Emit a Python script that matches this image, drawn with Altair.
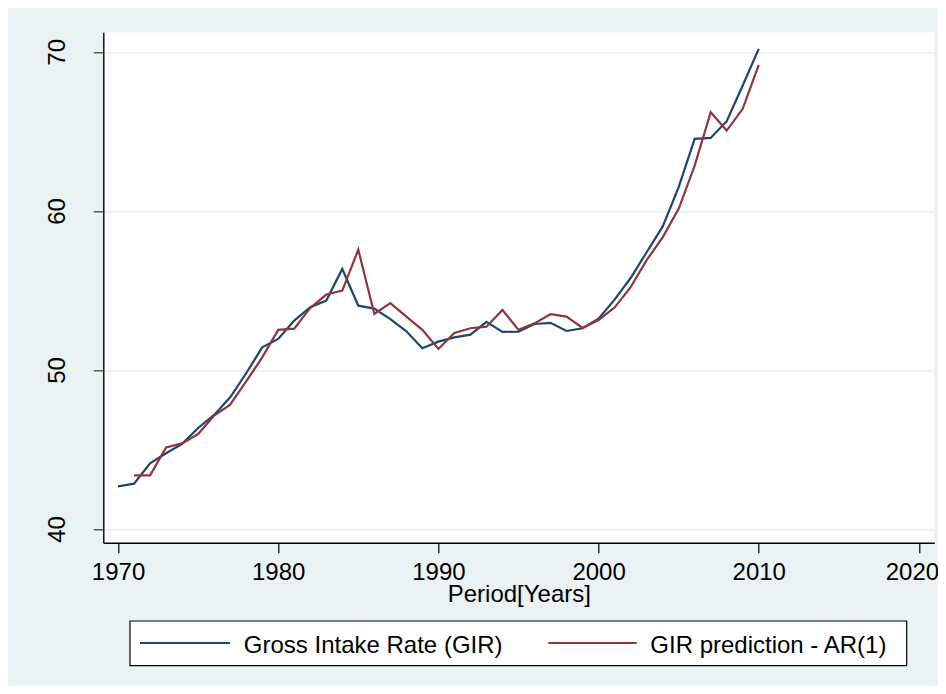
import altair as alt
import pandas as pd

# ---------------- data ----------------
years = list(range(1970, 2011))
gir = [42.68, 42.85, 44.13, 44.76, 45.35, 46.35, 47.17, 48.28, 49.79, 51.42,
       51.95, 53.10, 53.94, 54.36, 56.35, 54.04, 53.86, 53.20, 52.43, 51.36,
       51.78, 52.05, 52.22, 53.02, 52.39, 52.41, 52.89, 52.96, 52.45, 52.62,
       53.22, 54.42, 55.78, 57.40, 59.01, 61.49, 64.53, 64.59, 65.64, 67.88,
       70.19]
pred_years = list(range(1971, 2011))
pred = [43.37, 43.37, 45.13, 45.38, 45.97, 47.13, 47.82, 49.28, 50.79,
        52.52, 52.60, 53.90, 54.74, 54.99, 57.56, 53.52, 54.20, 53.35, 52.52,
        51.32, 52.33, 52.62, 52.72, 53.77, 52.52, 52.93, 53.50, 53.35, 52.64,
        53.14, 53.92, 55.20, 56.90, 58.34, 60.13, 62.85, 66.20, 65.05, 66.42,
        69.18]
series_names = ["Gross Intake Rate (GIR)", "GIR prediction - AR(1)"]
x_ticks = [1970, 1980, 1990, 2000, 2010, 2020]
y_ticks = [40, 50, 60, 70]
x_title = "Period[Years]"

# ---------------- style ----------------
FONT = "Liberation Sans"
BG = "#EAF2F3"
BLUE = "#1A476F"
RED = "#90353B"
W, H = 831, 510.5

df_gir = pd.DataFrame({"Year": years, "Value": gir})
df_pred = pd.DataFrame({"Year": pred_years, "Value": pred})
one = pd.DataFrame({"k": [0]})

x_scale = alt.Scale(domain=[1969.08, 2020.96], nice=False, zero=False)
y_scale = alt.Scale(domain=[39.13, 71.23], nice=False, zero=False)

x_axis = alt.Axis(values=x_ticks, format="d", grid=False,
                  tickSize=10, tickColor="black", tickWidth=1.2,
                  domainColor="black", domainWidth=1.4,
                  labelFontSize=24, labelColor="black", labelFont=FONT,
                  labelPadding=8, labelFlush=False,
                  labelOffset={"condition": {"test": "datum.value == 2020", "value": -7},
                               "value": 0},
                  title=x_title, titleFontSize=24, titleFont=FONT,
                  titleFontWeight="normal", titleColor="black",
                  titleBaseline="alphabetic", titleY=58.7)
y_axis = alt.Axis(values=y_ticks, format="d", grid=True,
                  gridColor=BG, gridWidth=2,
                  tickSize=10, tickColor="#333333", tickWidth=1.2,
                  domainColor="black", domainWidth=1.4,
                  labelFontSize=24, labelColor="black", labelFont=FONT,
                  labelAngle=270, labelAlign="center",
                  labelBaseline="alphabetic", labelPadding=29,
                  labelFlush=False, title=None)

line_gir = alt.Chart(df_gir).mark_line(color=BLUE, strokeWidth=2.2).encode(
    x=alt.X("Year:Q", scale=x_scale, axis=x_axis),
    y=alt.Y("Value:Q", scale=y_scale, axis=y_axis),
)
line_pred = alt.Chart(df_pred).mark_line(color=RED, strokeWidth=2.2).encode(
    x=alt.X("Year:Q", scale=x_scale),
    y=alt.Y("Value:Q", scale=y_scale),
)

# ---------------- legend (drawn by hand, Stata style) ----------------
box = alt.Chart(one).mark_rect(fill="white", stroke="black", strokeWidth=1.2).encode(
    x=alt.value(26.7), x2=alt.value(803.4), y=alt.value(588.7), y2=alt.value(633.4))
sym_blue = alt.Chart(one).mark_rule(color=BLUE, strokeWidth=2.2).encode(
    x=alt.value(36.7), x2=alt.value(126.7), y=alt.value(610.7))
sym_red = alt.Chart(one).mark_rule(color=RED, strokeWidth=2.2).encode(
    x=alt.value(445.0), x2=alt.value(533.4), y=alt.value(610.7))
lab_blue = alt.Chart(one).mark_text(text=series_names[0], align="left",
                                     baseline="alphabetic", fontSize=24,
                                     font=FONT, color="black").encode(
    x=alt.value(140.5), y=alt.value(621))
lab_red = alt.Chart(one).mark_text(text=series_names[1], align="left",
                                    baseline="alphabetic", fontSize=24,
                                    font=FONT, color="black").encode(
    x=alt.value(547.0), y=alt.value(621))

chart = alt.layer(line_gir, line_pred, box, sym_blue, sym_red, lab_blue, lab_red).properties(
    width=W, height=H,
    background=BG,
    autosize=alt.AutoSizeParams(type="none"),
    padding={"left": 95.3, "top": 24.3, "right": 3.7, "bottom": 143.2},
).configure_view(fill="white", strokeWidth=0)

chart.save("out.html", embed_options={"renderer": "svg", "actions": False})
